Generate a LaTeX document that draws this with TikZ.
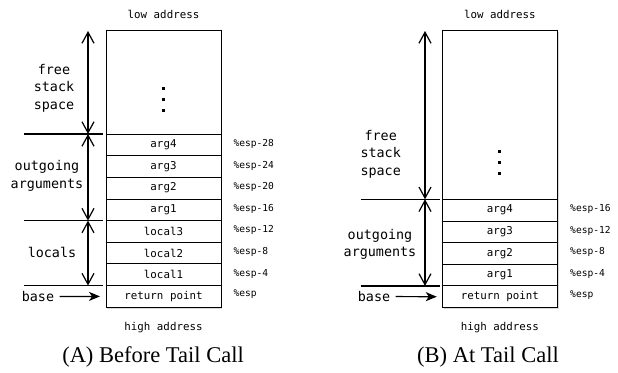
\documentclass[tikz,border=0pt]{standalone}
\usepackage{fontspec}
\setmainfont{Liberation Serif}
\setmonofont{DejaVu Sans Mono}
\usetikzlibrary{positioning, arrows.meta, shadows, backgrounds}

\tikzset{
  cell/.style={draw, line width=0.9pt, minimum width=115pt, minimum height=21.65pt,
    inner sep=0pt, outer sep=0pt, font=\ttfamily\fontsize{10.8}{12}\selectfont},
  esp/.style={anchor=west, font=\ttfamily\fontsize{9.6}{11}\selectfont},
  addr/.style={font=\ttfamily\fontsize{10.8}{12}\selectfont},
  side/.style={align=center, font=\ttfamily\fontsize{13.4}{17.5}\selectfont},
  capt/.style={font=\fontsize{22.5}{26}\selectfont},
  span/.style={{Straight Barb[length=11pt,width=12pt,line width=1.2pt]}-{Straight Barb[length=11pt,width=12pt,line width=1.2pt]}, line width=1.3pt},
  rule/.style={line width=1.2pt},
  push/.style={-{Stealth[length=11pt,width=9pt,inset=3pt]}, line width=1.2pt},
  shade/.style={fill=white, drop shadow={opacity=0.3, shadow xshift=1.2pt, shadow yshift=-1.8pt}}
}

\begin{document}
\begin{tikzpicture}[x=1pt, y=-1pt]
  \useasboundingbox (0,0) rectangle (618,372);

  % (A) before the tail call
  \node[cell, minimum height=104pt] (fa) at (163.5,82) {};
  \node[cell, below=0pt of fa] (a4) {arg4};
  \node[cell, below=0pt of a4] (a3) {arg3};
  \node[cell, below=0pt of a3] (a2) {arg2};
  \node[cell, below=0pt of a2] (a1) {arg1};
  \node[cell, below=0pt of a1] (l3) {local3};
  \node[cell, below=0pt of l3] (l2) {local2};
  \node[cell, below=0pt of l2] (l1) {local1};
  \node[cell, below=0pt of l1] (ra) {return point};
  \begin{scope}[on background layer]
    \path[shade] (fa.north west) rectangle (ra.south east);
  \end{scope}
  \fill (162,86.5) rectangle ++(3.2,3.2);
  \fill (162,97.5) rectangle ++(3.2,3.2);
  \fill (162,108.5) rectangle ++(3.2,3.2);

  \node[esp] (ea4) at ([xshift=9pt, yshift=1pt]a4.east) {\%esp-28};
  \node[esp] (ea3) at ([xshift=9pt, yshift=1pt]a3.east) {\%esp-24};
  \node[esp] (ea2) at ([xshift=9pt, yshift=1pt]a2.east) {\%esp-20};
  \node[esp] (ea1) at ([xshift=9pt, yshift=1pt]a1.east) {\%esp-16};
  \node[esp] (el3) at ([xshift=9pt, yshift=1pt]l3.east) {\%esp-12};
  \node[esp] (el2) at ([xshift=9pt, yshift=1pt]l2.east) {\%esp-8};
  \node[esp] (el1) at ([xshift=9pt, yshift=1pt]l1.east) {\%esp-4};
  \node[esp] (era) at ([xshift=9pt, yshift=2pt]ra.east) {\%esp};

  \coordinate (ta) at (88,31);
  \draw[span] (ta) -- (ta |- fa.south);
  \draw[span] (ta |- fa.south) -- (ta |- a1.south);
  \draw[span] (ta |- a1.south) -- (ta |- l1.south);
  \draw[rule] ([xshift=-82pt]fa.south west) -- ([xshift=-3pt]fa.south west);
  \draw[rule] ([xshift=-82pt]a1.south west) -- ([xshift=-3pt]a1.south west);
  \draw[rule] ([xshift=-82pt]l1.south west) -- ([xshift=-3pt]l1.south west);

  \node[side] (fsa) at (54,88) {free\\stack\\space};
  \node[side] (oga) at (47,176) {outgoing\\arguments};
  \node[side] (loa) at (52,252) {locals};
  \node[side] (bsa) at (38,296.5) {base};
  \draw[push, shorten <=2pt, shorten >=6pt] (bsa) -- (ra.west);

  \node[addr] (lowa) at (163.5,14) {low address};
  \node[addr] (higha) at (163.5,328) {high address};
  \node[capt] (cpa) at (153,357) {(A) Before Tail Call};

  % (B) at the tail call
  \node[cell, minimum height=169.3pt] (fb) at (499.8,114.65) {};
  \node[cell, below=0pt of fb] (b4) {arg4};
  \node[cell, below=0pt of b4] (b3) {arg3};
  \node[cell, below=0pt of b3] (b2) {arg2};
  \node[cell, below=0pt of b2] (b1) {arg1};
  \node[cell, below=0pt of b1] (rb) {return point};
  \begin{scope}[on background layer]
    \path[shade] (fb.north west) rectangle (rb.south east);
  \end{scope}
  \fill (498.2,149.5) rectangle ++(3.2,3.2);
  \fill (498.2,160.5) rectangle ++(3.2,3.2);
  \fill (498.2,171.5) rectangle ++(3.2,3.2);

  \node[esp] (eb4) at ([xshift=9.4pt, yshift=1pt]b4.east) {\%esp-16};
  \node[esp] (eb3) at ([xshift=9.4pt, yshift=1pt]b3.east) {\%esp-12};
  \node[esp] (eb2) at ([xshift=9.4pt, yshift=1pt]b2.east) {\%esp-8};
  \node[esp] (eb1) at ([xshift=9.4pt, yshift=1pt]b1.east) {\%esp-4};
  \node[esp] (erb) at ([xshift=9.4pt, yshift=2pt]rb.east) {\%esp};

  \coordinate (tb) at (425,31);
  \draw[span] (tb) -- (tb |- fb.south);
  \draw[span] (tb |- fb.south) -- (tb |- b1.south);
  \draw[rule] ([xshift=-81.6pt]fb.south west) -- ([xshift=-2.3pt]fb.south west);
  \draw[rule] ([xshift=-81.6pt]b1.south west) -- ([xshift=-2.3pt]b1.south west);

  \node[side] (fsb) at (380.7,154) {free\\stack\\space};
  \node[side] (ogb) at (380,244.5) {outgoing\\arguments};
  \node[side] (bsb) at (374,296.5) {base};
  \draw[push, shorten <=2pt, shorten >=5.5pt] (bsb) -- (rb.west);

  \node[addr] (lowb) at (499.8,14) {low address};
  \node[addr] (highb) at (499.8,328) {high address};
  \node[capt] (cpb) at (488,357) {(B) At Tail Call};
\end{tikzpicture}
\end{document}
